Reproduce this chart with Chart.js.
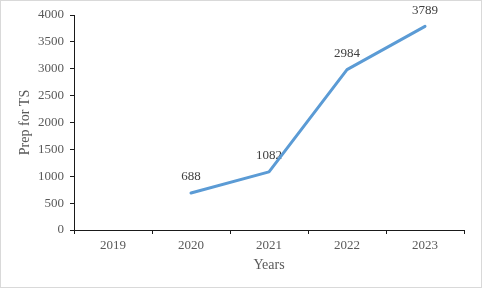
<!DOCTYPE html>
<html>
<head>
<meta charset="utf-8">
<script src="https://cdn.jsdelivr.net/npm/chart.js@4"></script>
<style>
  html, body { margin: 0; padding: 0; background: #fff; }
  #wrap { width: 482px; height: 288px; box-sizing: border-box; border: 1px solid #d9d9d9; position: relative; }
  canvas { display: block; }
</style>
</head>
<body>
<div id="wrap"><canvas id="c" width="480" height="286"></canvas></div>
<script>
const categories = ['2019', '2020', '2021', '2022', '2023'];
const prepValues = [null, 688, 1082, 2984, 3789];
const yTicks = [0, 500, 1000, 1500, 2000, 2500, 3000, 3500, 4000];
const xTitle = 'Years';
const yTitle = 'Prep for TS';

const FONT = "'Liberation Serif', serif";

const labelPlugin = {
  id: 'pointLabels',
  beforeDatasetsDraw(chart) {
    const ctx = chart.ctx;
    const meta = chart.getDatasetMeta(0);
    ctx.save();
    ctx.font = "13px " + FONT;
    ctx.fillStyle = '#404040';
    ctx.textAlign = 'center';
    ctx.textBaseline = 'middle';
    meta.data.forEach((pt, i) => {
      const v = chart.data.datasets[0].data[i];
      if (v === null || v === undefined) return;
      ctx.fillText(String(v), pt.x, pt.y - 16);
    });
    ctx.restore();
  }
};

new Chart(document.getElementById('c'), {
  type: 'line',
  data: {
    labels: categories,
    datasets: [{
      data: prepValues,
      borderColor: '#5b9bd5',
      borderWidth: 3,
      pointRadius: 0,
      pointHoverRadius: 0,
      tension: 0,
      borderCapStyle: 'round',
      borderJoinStyle: 'round',
      fill: false
    }]
  },
  options: {
    responsive: false,
    animation: false,
    events: [],
    layout: { padding: { top: 14, right: 17, bottom: 0, left: 0 } },
    plugins: { legend: { display: false }, tooltip: { enabled: false } },
    scales: {
      x: {
        offset: true,
        grid: { display: true, offset: true, drawOnChartArea: false, drawTicks: true, tickLength: 4, tickColor: '#1a1a1a', tickWidth: 1 },
        border: { display: true, color: '#1a1a1a', width: 1 },
        ticks: { color: '#595959', font: { family: FONT, size: 13 }, padding: 4, maxRotation: 0 },
        title: { display: true, text: xTitle, color: '#595959', font: { family: FONT, size: 14 }, padding: { top: 0, bottom: 13 } },
        afterFit(scale) { scale.height = 57; }
      },
      y: {
        min: 0, max: 4000,
        afterBuildTicks(scale) { scale.ticks = yTicks.map(v => ({ value: v })); },
        grid: { display: true, drawOnChartArea: false, drawTicks: true, tickLength: 4, tickColor: '#1a1a1a', tickWidth: 1 },
        border: { display: true, color: '#1a1a1a', width: 1 },
        ticks: { color: '#595959', font: { family: FONT, size: 13 }, padding: 6, callback: (v) => String(v) },
        title: { display: true, text: yTitle, color: '#595959', font: { family: FONT, size: 14 }, padding: { top: 16, bottom: 0 } },
        afterFit(scale) { scale.width = 73; }
      }
    }
  },
  plugins: [labelPlugin]
});
</script>
</body>
</html>
